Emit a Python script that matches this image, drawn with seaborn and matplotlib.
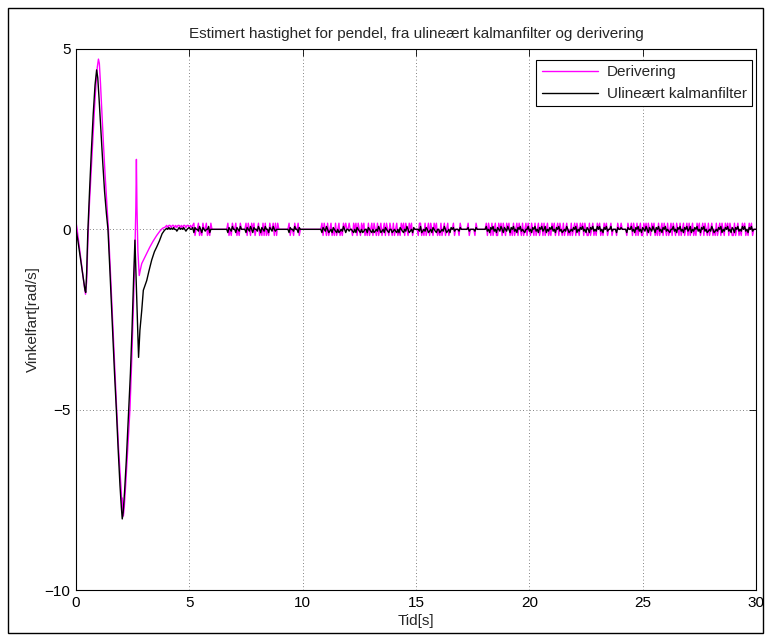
import matplotlib
matplotlib.use("Agg")
import matplotlib.pyplot as plt
from matplotlib.patches import Rectangle
import pandas as pd
import seaborn as sns

TITLE = "Estimert hastighet for pendel, fra ulineært kalmanfilter og derivering"
X_LABEL = "Tid[s]"
Y_LABEL = "Vinkelfart[rad/s]"
SERIES = ["Derivering", "Ulineært kalmanfilter"]
COLORS = ["#ff00ff", "#000000"]
X_TICKS = [0, 5, 10, 15, 20, 25, 30]
Y_TICKS = [-10, -5, 0, 5]

# Swing-up transient, (time, value) pairs -- numerical derivative
MAG_T = [0.00, 0.05, 0.12, 0.20, 0.28, 0.36, 0.42, 0.47, 0.52, 0.58, 0.66, 0.74, 0.82, 0.89,
         0.94, 0.99, 1.03, 1.08, 1.13, 1.20, 1.28, 1.36, 1.43, 1.52, 1.62, 1.72, 1.795, 1.88,
         1.96, 2.00, 2.02, 2.04, 2.07, 2.09, 2.13, 2.20, 2.30, 2.38, 2.46, 2.54, 2.60, 2.64,
         2.665, 2.69, 2.73, 2.79, 2.84, 2.90, 3.00, 3.12, 3.25, 3.40, 3.56, 3.70, 3.82, 3.93]
MAG_V = [0.20, 0.00, -0.35, -0.75, -1.15, -1.55, -1.80, -1.45, -0.40, 0.55, 1.50, 2.45, 3.40, 4.10,
         4.50, 4.72, 4.60, 4.05, 3.40, 2.50, 1.55, 0.70, 0.00, -1.20, -2.60, -4.00, -5.00, -6.10,
         -6.90, -7.30, -7.70, -7.45, -7.85, -7.95, -7.70, -7.00, -5.90, -5.00, -3.60, -2.00, -0.60, 0.60,
         1.94, 0.60, -0.60, -1.28, -1.12, -0.95, -0.82, -0.67, -0.50, -0.33, -0.17, -0.05, 0.03, 0.06]

# Swing-up transient, (time, value) pairs -- nonlinear Kalman filter
BLK_T = [0.00, 0.08, 0.16, 0.24, 0.32, 0.40, 0.43, 0.47, 0.52, 0.60, 0.68, 0.76, 0.84, 0.91,
         0.96, 1.02, 1.10, 1.18, 1.26, 1.34, 1.41, 1.50, 1.60, 1.70, 1.78, 1.86, 1.94, 2.00,
         2.04, 2.08, 2.14, 2.22, 2.32, 2.40, 2.47, 2.54, 2.60, 2.68, 2.76, 2.82, 2.90, 2.97,
         3.05, 3.12, 3.22, 3.34, 3.46, 3.56, 3.68, 3.80, 3.90]
BLK_V = [0.00, -0.30, -0.65, -1.00, -1.35, -1.70, -1.75, -1.20, -0.10, 1.10, 2.20, 3.20, 4.00, 4.42,
         4.20, 3.60, 2.70, 1.85, 1.05, 0.45, 0.00, -1.20, -2.60, -4.00, -5.00, -6.10, -7.10, -7.70,
         -8.03, -7.85, -7.30, -6.40, -5.10, -4.00, -2.80, -1.40, -0.30, -1.90, -3.55, -2.80, -2.25, -1.69,
         -1.55, -1.42, -1.15, -0.85, -0.62, -0.49, -0.32, -0.12, -0.03]

# Steady-state ripple around zero: one character per sample, bursts start at the given times
SAMPLE_DT = 0.05
MAG_LEVELS = {"+": 0.17, "-": -0.17, "^": 0.11, ",": 0.05, ".": 0.0}
BLK_LEVELS = {"+": 0.05, "^": 0.08, "-": -0.05, "v": -0.09, ",": 0.03, ".": 0.0}
BURST_START = [4.00, 6.65, 7.45, 9.35, 10.80, 16.60, 18.05]

MAG_BURSTS = [
    "^,^^,^^,^,^^,^,^^,^^,^,^" "+-..+-.-+..+-.-+.",
    ".+-.-+..+-.-+.",
    ".+-+.-+.+-..+-.-+-+-.-+..+-+-+.",
    ".+-..-+..+-.",
    "." "+-+.-+-.+-.-+-.+-.-+.+" "..+.."
    "-+.+-+.-+.+-.-+-.+-+.-+-.+-.+-+.-+.-+-.+-.-+.+-+.-+."
    "+-....-+" "+-.-+-.+-+.-+.+-.-+-.+-.+-" ".",
    ".+-...-+......+-....-+..",
    "." "+-+.-+-.+-" "-+.+-+.-+." "+-.-+-.+-+" ".-+-.+-+.-" "+.-+-.+-.+" "-+-.+-.-+."
    "+-.+-+.-+-" ".+-.-+-.+-" "+.-+.+-+.-" "-+-.+-.-+." "+-.-+.+-.."
    "+-...-+..+....-+.."
    "+-+.-+-.+-" "-+.+-+.-+." "+-.-+-.+-+" ".-+-.+-+.-" "+.-+-.+-.+" "-+-.+-.-+."
    "+-.+-+.-+-" ".+-.-+-.+-" "+.-+.+-+.-" "-+-.+-.-+." "+-.-+.+-...",
]

BLK_BURSTS = [
    ",.+.,.+..-.+.,.+.-.,+..+" "v+..-^.v+.-..^v.",
    ".v+.-^..v+.-^.",
    ".v+.-^.v+..-^.v+.-^..v+.-^.-.",
    ".v+..-^..v+.",
    "." "v+.-^.v-.v+.-v.v-.-^.v" "..-.."
    "-v.v+.-v.v-..v+.-v.v-.-^.v-.v+.-v..v-.-v.v+.-v.-^.v-."
    "v+....-^" "v-.-+.v-.v+.-v..v-.-^.v-.v+" ".",
    ".+-...-+......+-....-+..",
    "." "^-.v+.^-.v" "+.-^.v+.-^" ".v+.^-.v+." "^-.-v..^-." "v+.^-.v+.^" "-.^v.-+.^-"
    ".v+.^-.v-." "-^.v-.-+.^" "v.-+.^-.v+" ".v+.^-.-^." "^-.v+.^-.."
    "^-...v+..+....v+.."
    "^-.v+.^-.v" "+.-^.v+.-^" ".v+.^-.v+." "^-.-v..^-." "v+.^-.v+.^" "-.^v.-+.^-"
    ".v+.^-.v-." "-^.v-.-+.^" "v.-+.^-.v+" ".v+.^-.-^." "^-.v+.^-...",
]


def build_series(t_keys, v_keys, bursts, levels):
    times, values = list(t_keys), list(v_keys)
    for t0, pattern in zip(BURST_START, bursts):
        for k, ch in enumerate(pattern):
            times.append(t0 + k * SAMPLE_DT)
            values.append(levels[ch])
    return times, values


mag_t, mag_v = build_series(MAG_T, MAG_V, MAG_BURSTS, MAG_LEVELS)
blk_t, blk_v = build_series(BLK_T, BLK_V, BLK_BURSTS, BLK_LEVELS)
df = pd.concat([
    pd.DataFrame({"t": mag_t, "v": mag_v, "serie": SERIES[0]}),
    pd.DataFrame({"t": blk_t, "v": blk_v, "serie": SERIES[1]}),
])

sns.set_style("white")
plt.rcParams["font.family"] = ["Liberation Sans", "DejaVu Sans"]
FS = 11

fig = plt.figure(figsize=(7.7, 6.35), dpi=100)
ax = fig.add_axes([76 / 770, 1 - 590 / 635, 680 / 770, 541 / 635])

for name, color, lw in zip(SERIES, COLORS, [1.0, 1.0]):
    sns.lineplot(data=df[df["serie"] == name], x="t", y="v", color=color,
                 linewidth=lw, estimator=None, sort=False, label=name, ax=ax)

ax.set_xlim(0, 30)
ax.set_ylim(-10, 5)
ax.set_xticks(X_TICKS)
ax.set_yticks(Y_TICKS)
ax.grid(True, linestyle=(0, (1, 3)), color="0.35", linewidth=0.6)
ax.tick_params(direction="in", length=5, width=0.6, top=True, right=True,
               labelsize=FS, pad=4, colors="black")
for sp in ax.spines.values():
    sp.set_color("black")
    sp.set_linewidth(0.8)

ax.set_title(TITLE, fontsize=FS, pad=8)
ax.set_xlabel(X_LABEL, fontsize=FS, labelpad=3)
ax.set_ylabel(Y_LABEL, fontsize=FS, labelpad=3)

leg = ax.legend(loc="upper right", bbox_to_anchor=((752 - 76) / 680, (590 - 60) / 541),
                frameon=True, fancybox=False, edgecolor="black", framealpha=1,
                fontsize=FS, handlelength=3.7, handletextpad=0.55, borderpad=0.35,
                labelspacing=0.5, borderaxespad=0)
leg.get_frame().set_linewidth(0.8)

fig.add_artist(Rectangle((8 / 770, 2 / 635), 755 / 770, 625 / 635,
                         transform=fig.transFigure, fill=False,
                         edgecolor="black", linewidth=1))

fig.savefig("out.png", dpi=100, facecolor="white")
